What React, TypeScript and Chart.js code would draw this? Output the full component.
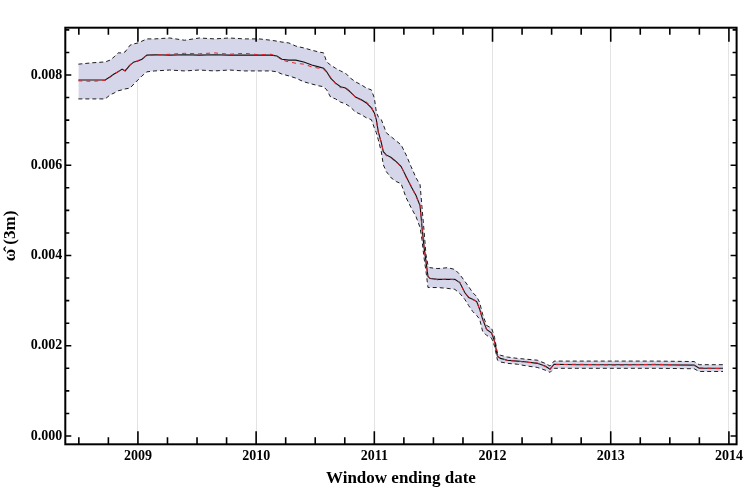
import React, { useEffect, useRef } from "react";
import { Chart, registerables } from "chart.js";

Chart.register(...registerables);

// Window ending date (decimal years)
const dates = [
  2008.496, 2008.613, 2008.723, 2008.765, 2008.798, 2008.832, 2008.866, 2008.891, 2008.933, 2008.966,
  2009.0, 2009.034, 2009.076, 2009.143, 2009.269, 2009.395, 2009.521, 2009.647, 2009.773, 2009.899,
  2010.025, 2010.126, 2010.176, 2010.218, 2010.277, 2010.336, 2010.403, 2010.471, 2010.529, 2010.571,
  2010.597, 2010.63, 2010.672, 2010.714, 2010.756, 2010.798, 2010.84, 2010.891, 2010.933, 2010.975,
  2011.0, 2011.017, 2011.034, 2011.059, 2011.076, 2011.101, 2011.143, 2011.185, 2011.227, 2011.269,
  2011.311, 2011.353, 2011.387, 2011.403, 2011.42, 2011.437, 2011.454, 2011.471, 2011.538, 2011.622,
  2011.681, 2011.723, 2011.765, 2011.798, 2011.832, 2011.866, 2011.891, 2011.916, 2011.95, 2011.992,
  2012.017, 2012.042, 2012.067, 2012.126, 2012.21, 2012.294, 2012.378, 2012.445, 2012.487, 2012.521,
  2012.714, 2013.05, 2013.387, 2013.706, 2013.748, 2013.95,
];

// Black solid estimate
const central = [
  0.00789, 0.00789, 0.00789, 0.00796, 0.00802, 0.00807, 0.00813, 0.00809, 0.00822, 0.00829,
  0.00831, 0.00835, 0.00844, 0.00845, 0.00844, 0.00845, 0.00844, 0.00845, 0.00844, 0.00844,
  0.00844, 0.00844, 0.00842, 0.00835, 0.00833, 0.00833, 0.00829, 0.00822, 0.00818, 0.00815,
  0.00807, 0.00793, 0.00782, 0.00774, 0.00771, 0.00762, 0.00751, 0.00745, 0.00738, 0.00727,
  0.00716, 0.00701, 0.00674, 0.0065, 0.0063, 0.00623, 0.00617, 0.00608, 0.00597, 0.00575,
  0.00553, 0.00533, 0.0051, 0.00464, 0.0042, 0.00387, 0.00354, 0.00349, 0.00347, 0.00347,
  0.00347, 0.0034, 0.00318, 0.00307, 0.00303, 0.00298, 0.00281, 0.00259, 0.00236, 0.00228,
  0.0021, 0.00177, 0.00172, 0.00168, 0.00166, 0.00164, 0.00161, 0.00155, 0.00148, 0.00159,
  0.00158, 0.00158, 0.00158, 0.00157, 0.0015, 0.0015,
];

// Red dashed estimate
const redSeries = [
  0.00787, 0.00786, 0.00788, 0.00795, 0.00801, 0.00808, 0.00811, 0.0081, 0.00823, 0.00828,
  0.00832, 0.00836, 0.00843, 0.00844, 0.00846, 0.00848, 0.00847, 0.00849, 0.00846, 0.00848,
  0.00845, 0.00846, 0.00841, 0.00833, 0.00829, 0.00826, 0.00824, 0.00818, 0.00815, 0.00813,
  0.00806, 0.00795, 0.0078, 0.00772, 0.00772, 0.00764, 0.0075, 0.00744, 0.0074, 0.0073,
  0.00714, 0.007, 0.00672, 0.00651, 0.0063, 0.00621, 0.00616, 0.00606, 0.00598, 0.00573,
  0.00555, 0.0053, 0.00512, 0.00462, 0.00421, 0.00385, 0.00352, 0.0035, 0.00346, 0.00348,
  0.00346, 0.00341, 0.00316, 0.00308, 0.00302, 0.00299, 0.00279, 0.0026, 0.00235, 0.00229,
  0.00209, 0.00176, 0.00173, 0.00167, 0.00166, 0.00163, 0.00162, 0.00154, 0.00149, 0.00158,
  0.00159, 0.00157, 0.00159, 0.00156, 0.00151, 0.00149,
];

// Upper confidence bound
const upper = [
  0.00824, 0.00827, 0.00829, 0.00833, 0.0084, 0.00849, 0.00849, 0.00851, 0.00866, 0.00869,
  0.00871, 0.00875, 0.0088, 0.0088, 0.00882, 0.00877, 0.00882, 0.0088, 0.00882, 0.0088,
  0.0088, 0.00877, 0.00875, 0.00873, 0.00871, 0.00864, 0.0086, 0.00855, 0.00851, 0.00849,
  0.00829, 0.00822, 0.00815, 0.00809, 0.00804, 0.00793, 0.00785, 0.00778, 0.00771, 0.00767,
  0.00749, 0.00718, 0.00707, 0.00701, 0.0069, 0.00672, 0.00663, 0.00654, 0.00645, 0.00623,
  0.00597, 0.00572, 0.00557, 0.00508, 0.00457, 0.00402, 0.00378, 0.00373, 0.00371, 0.00373,
  0.00369, 0.00358, 0.00343, 0.00331, 0.00318, 0.00309, 0.00296, 0.0027, 0.00245, 0.00239,
  0.00219, 0.00183, 0.00179, 0.00175, 0.00172, 0.0017, 0.00168, 0.00161, 0.00155, 0.00166,
  0.00166, 0.00166, 0.00166, 0.00165, 0.00158, 0.00158,
];

// Lower confidence bound
const lower = [
  0.00747, 0.00747, 0.00747, 0.00756, 0.0076, 0.00765, 0.00767, 0.00769, 0.00771, 0.0078,
  0.00789, 0.00798, 0.00807, 0.00809, 0.00811, 0.00809, 0.00811, 0.00809, 0.00811, 0.00809,
  0.00809, 0.00809, 0.00807, 0.00802, 0.00798, 0.00793, 0.00785, 0.0078, 0.00776, 0.00774,
  0.00767, 0.00751, 0.00747, 0.0074, 0.00736, 0.00729, 0.00718, 0.00712, 0.00705, 0.00701,
  0.00683, 0.00672, 0.00656, 0.0063, 0.00601, 0.00586, 0.00572, 0.00564, 0.00559, 0.00528,
  0.00506, 0.00486, 0.00462, 0.00435, 0.00396, 0.00365, 0.00329, 0.00329, 0.00329, 0.00327,
  0.00325, 0.00316, 0.00303, 0.00289, 0.00276, 0.00267, 0.00259, 0.00232, 0.00223, 0.00217,
  0.00199, 0.00168, 0.00164, 0.00161, 0.00159, 0.00155, 0.00152, 0.00146, 0.00141, 0.0015,
  0.0015, 0.0015, 0.0015, 0.00149, 0.00143, 0.00143,
];

const yearTicks = [2009, 2010, 2011, 2012, 2013, 2014];
const valueTicks = [0, 0.002, 0.004, 0.006, 0.008];

const FONT = "'Liberation Serif', 'Times New Roman', serif";

const toPoints = (vals: number[]) => dates.map((d, i) => ({ x: d, y: vals[i] }));

const framePlugin = {
  id: "frame",
  afterDraw(chart: any) {
    const { ctx, chartArea: a } = chart;
    const xs = chart.scales.x;
    const ys = chart.scales.y;
    ctx.save();
    ctx.strokeStyle = "#000";
    ctx.lineWidth = 1.6;
    ctx.beginPath();
    for (let q = 0; q <= 23; q++) {
      const v = 2008.5 + q * 0.25;
      const px = xs.getPixelForValue(v);
      if (px < a.left || px > a.right) continue;
      const major = Math.abs(v - Math.round(v)) < 1e-6;
      const lb = major ? 13 : 7;
      const lt = major ? 14 : 7;
      ctx.moveTo(px, a.bottom);
      ctx.lineTo(px, a.bottom - lb);
      ctx.moveTo(px, a.top);
      ctx.lineTo(px, a.top + lt);
    }
    for (let k = 0; k <= 18; k++) {
      const v = k * 0.0005;
      const py = ys.getPixelForValue(v);
      if (py < a.top || py > a.bottom) continue;
      const major = k % 4 === 0;
      const l = major ? 6 : 4;
      ctx.moveTo(a.left, py);
      ctx.lineTo(a.left + l, py);
      ctx.moveTo(a.right, py);
      ctx.lineTo(a.right - l, py);
    }
    ctx.stroke();
    ctx.lineWidth = 2;
    ctx.strokeRect(a.left, a.top, a.right - a.left, a.bottom - a.top);
    ctx.restore();
  },
};

export default function App() {
  const ref = useRef<HTMLCanvasElement | null>(null);

  useEffect(() => {
    document.body.style.margin = "0";
    if (!ref.current) return;
    const chart = new Chart(ref.current, {
      type: "line",
      data: {
        datasets: [
          {
            label: "upper",
            order: 4,
            data: toPoints(upper),
            borderColor: "#1e1e1e",
            borderWidth: 1,
            borderDash: [4, 3],
            backgroundColor: "rgba(214, 214, 234, 1)",
            fill: "+1",
            pointRadius: 0,
            tension: 0,
          },
          {
            label: "lower",
            order: 3,
            data: toPoints(lower),
            borderColor: "#1e1e1e",
            borderWidth: 1,
            borderDash: [4, 3],
            fill: false,
            pointRadius: 0,
            tension: 0,
          },
          {
            label: "estimate",
            order: 2,
            data: toPoints(central),
            borderColor: "#111111",
            borderWidth: 1.1,
            fill: false,
            pointRadius: 0,
            tension: 0,
          },
          {
            label: "alt",
            order: 1,
            data: toPoints(redSeries),
            borderColor: "#e8202a",
            borderWidth: 1,
            borderDash: [4, 4],
            fill: false,
            pointRadius: 0,
            tension: 0,
          },
        ],
      },
      options: {
        animation: false,
        responsive: false,
        maintainAspectRatio: false,
        layout: { padding: { left: 0, right: 7, top: 27.7, bottom: 0 } },
        plugins: {
          legend: { display: false },
          tooltip: { enabled: false },
        },
        scales: {
          x: {
            type: "linear",
            min: 2008.3855,
            max: 2014.065,
            afterBuildTicks: (s: any) => {
              s.ticks = yearTicks.map((v) => ({ value: v }));
            },
            afterFit: (s: any) => {
              s.height = 53.7;
            },
            ticks: {
              autoSkip: false,
              maxRotation: 0,
              padding: 4,
              color: "#000",
              font: { family: FONT, size: 14, weight: "bold" },
              callback: (v: any) => String(v),
            },
            grid: {
              display: true,
              drawTicks: false,
              color: "#e3e3e3",
              lineWidth: 1,
            },
            border: { display: false },
            title: {
              display: true,
              text: "Window ending date",
              color: "#000",
              font: { family: FONT, size: 17, weight: "bold" },
              padding: { top: 0, bottom: 9 },
            },
          },
          y: {
            type: "linear",
            min: -0.000184,
            max: 0.009048,
            afterBuildTicks: (s: any) => {
              s.ticks = valueTicks.map((v) => ({ value: v }));
            },
            afterFit: (s: any) => {
              s.width = 65.3;
            },
            ticks: {
              autoSkip: false,
              padding: 3,
              color: "#000",
              font: { family: FONT, size: 14, weight: "bold" },
              callback: (v: any) => Number(v).toFixed(3),
            },
            grid: { display: false, drawTicks: false },
            border: { display: false },
            title: {
              display: true,
              text: "ω\u0302 (3m)",
              color: "#000",
              font: { family: FONT, size: 17, weight: "bold" },
              padding: { top: 0, bottom: 2 },
            },
          },
        },
      },
      plugins: [framePlugin],
    });
    return () => chart.destroy();
  }, []);

  return (
    <div style={{ width: 747, height: 498 }}>
      <canvas ref={ref} width={747} height={498} style={{ display: "block", width: 747, height: 498 }} />
    </div>
  );
}
